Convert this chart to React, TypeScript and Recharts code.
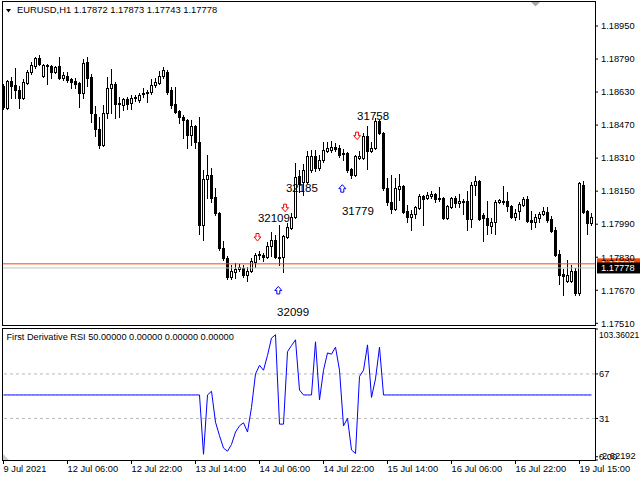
import React from "react";
import {
  ComposedChart,
  Bar,
  Line,
  Scatter,
  XAxis,
  YAxis,
  ReferenceLine,
} from "recharts";

const FONT = '"Liberation Sans", Arial, sans-serif';

// EURUSD H1 candles, 9 Jul 14:00 .. 19 Jul
const opens = [
  1.18659, 1.18553, 1.18684, 1.18664, 1.1864, 1.18601, 1.18674, 1.18727, 1.18756, 1.18795,
  1.18708, 1.18761, 1.18756, 1.18727, 1.18756, 1.18698, 1.18708, 1.18693, 1.18684, 1.18674,
  1.18626, 1.18776, 1.18703, 1.18524, 1.18451, 1.18374, 1.18529, 1.1865, 1.18669, 1.18577,
  1.18567, 1.18596, 1.18577, 1.18606, 1.18592, 1.18621, 1.1863, 1.1863, 1.18664, 1.18674,
  1.18708, 1.18727, 1.1864, 1.18572, 1.18538, 1.18509, 1.18495, 1.18422, 1.18466, 1.18388,
  1.17986, 1.18209, 1.18228, 1.18122, 1.18044, 1.17875, 1.17826, 1.17734, 1.17758, 1.17773,
  1.17778, 1.17744, 1.17763, 1.17807, 1.17841, 1.17841, 1.17831, 1.17884, 1.17913, 1.17831,
  1.17831, 1.17928, 1.17972, 1.18025, 1.18223, 1.18194, 1.18194, 1.18253, 1.1832, 1.18262,
  1.18301, 1.18345, 1.18349, 1.18364, 1.18359, 1.18335, 1.18335, 1.18257, 1.18228, 1.18311,
  1.18311, 1.18417, 1.18345, 1.18359, 1.1849, 1.18432, 1.18165, 1.18098, 1.18064, 1.1816,
  1.18175, 1.18054, 1.18025, 1.18039, 1.18068, 1.18127, 1.18117, 1.18127, 1.18136, 1.18117,
  1.18117, 1.1802, 1.18073, 1.18117, 1.18093, 1.18102, 1.18102, 1.18015, 1.1818, 1.18199,
  1.18035, 1.1802, 1.17981, 1.18001, 1.18098, 1.18102, 1.18102, 1.18078, 1.18025, 1.18054,
  1.18083, 1.18112, 1.1801, 1.18001, 1.1802, 1.18039, 1.18049, 1.18015, 1.17962, 1.17846,
  1.17749, 1.17715, 1.17715, 1.17763, 1.17657, 1.1818, 1.18054, 1.17996,
];
const highs = [
  1.18669, 1.18688, 1.18703, 1.18747, 1.18659, 1.18693, 1.18737, 1.18776, 1.188, 1.1881,
  1.18766, 1.18766, 1.18761, 1.18756, 1.188, 1.18727, 1.18727, 1.18698, 1.18698, 1.18679,
  1.1879, 1.188, 1.18718, 1.18563, 1.18509, 1.18567, 1.18703, 1.18742, 1.18679, 1.18606,
  1.18601, 1.18606, 1.18616, 1.18616, 1.18626, 1.1865, 1.1864, 1.18693, 1.18698, 1.18732,
  1.18751, 1.18737, 1.18655, 1.18655, 1.18543, 1.18519, 1.185, 1.18495, 1.18471, 1.18509,
  1.18253, 1.18325, 1.18262, 1.18165, 1.18049, 1.17909, 1.17836, 1.17792, 1.17802, 1.17797,
  1.17792, 1.17783, 1.17826, 1.1785, 1.1786, 1.1785, 1.17904, 1.17952, 1.17938, 1.17986,
  1.17938, 1.17996, 1.18044, 1.18286, 1.18253, 1.18282, 1.18345, 1.18349, 1.18349, 1.18325,
  1.18388, 1.18388, 1.18393, 1.18383, 1.18374, 1.18354, 1.1834, 1.18262, 1.18325, 1.18345,
  1.18432, 1.18466, 1.18388, 1.18504, 1.18495, 1.18437, 1.18214, 1.18228, 1.18214, 1.18233,
  1.1818, 1.18083, 1.18059, 1.18078, 1.18136, 1.18131, 1.18146, 1.18151, 1.18141, 1.1817,
  1.18122, 1.18083, 1.18122, 1.18127, 1.18136, 1.18112, 1.18151, 1.18194, 1.18223, 1.18204,
  1.18044, 1.18102, 1.1802, 1.18107, 1.18112, 1.18175, 1.18146, 1.18083, 1.18064, 1.18098,
  1.18122, 1.18127, 1.18054, 1.18039, 1.18049, 1.18073, 1.18073, 1.1803, 1.17976, 1.17865,
  1.17773, 1.17817, 1.17792, 1.17778, 1.18194, 1.18199, 1.18059, 1.18044,
];
const lows = [
  1.18548, 1.18548, 1.18601, 1.18601, 1.18553, 1.18596, 1.18669, 1.18718, 1.18747, 1.18761,
  1.18703, 1.18669, 1.18698, 1.18722, 1.18693, 1.18688, 1.18679, 1.1865, 1.1865, 1.18558,
  1.18601, 1.18659, 1.18485, 1.18417, 1.18359, 1.18369, 1.18504, 1.18529, 1.18504, 1.18509,
  1.18543, 1.18548, 1.18548, 1.18587, 1.18582, 1.18606, 1.18582, 1.18621, 1.18655, 1.18669,
  1.18698, 1.18621, 1.18553, 1.18529, 1.1848, 1.18408, 1.18359, 1.18374, 1.18359, 1.17943,
  1.17913, 1.18117, 1.18098, 1.18035, 1.17865, 1.17817, 1.17725, 1.17725, 1.17729, 1.17763,
  1.17734, 1.17715, 1.17758, 1.17783, 1.17821, 1.17812, 1.17826, 1.17836, 1.17826, 1.17792,
  1.17758, 1.17923, 1.17967, 1.1802, 1.18146, 1.18131, 1.1819, 1.18243, 1.18248, 1.18253,
  1.18291, 1.1834, 1.1834, 1.18345, 1.18315, 1.18301, 1.18243, 1.18214, 1.18223, 1.18306,
  1.18306, 1.18257, 1.1834, 1.18354, 1.18427, 1.18156, 1.18083, 1.18044, 1.18059, 1.18107,
  1.18044, 1.18001, 1.17962, 1.1802, 1.18064, 1.17986, 1.18112, 1.18117, 1.18098, 1.18102,
  1.18015, 1.18015, 1.18068, 1.18073, 1.18073, 1.18039, 1.17962, 1.17976, 1.18131, 1.1801,
  1.17909, 1.17943, 1.17947, 1.17943, 1.18093, 1.18088, 1.18054, 1.1802, 1.1801, 1.18015,
  1.18078, 1.18001, 1.17967, 1.17976, 1.18001, 1.18035, 1.18001, 1.17952, 1.17836, 1.177,
  1.17647, 1.1771, 1.1771, 1.17647, 1.17647, 1.18044, 1.17943, 1.17986,
];
const closes = [
  1.18558, 1.18684, 1.18659, 1.1864, 1.18601, 1.18679, 1.18727, 1.18761, 1.18795, 1.18766,
  1.18761, 1.18756, 1.18727, 1.18751, 1.18698, 1.18713, 1.18688, 1.18679, 1.18669, 1.18626,
  1.18771, 1.18698, 1.18529, 1.18451, 1.18374, 1.18529, 1.1865, 1.18669, 1.18572, 1.18572,
  1.18596, 1.18572, 1.18601, 1.18601, 1.18616, 1.18626, 1.18626, 1.18664, 1.18679, 1.18708,
  1.18737, 1.1863, 1.18567, 1.18533, 1.18509, 1.18495, 1.18422, 1.18466, 1.18388, 1.17986,
  1.18209, 1.18228, 1.18117, 1.18044, 1.17875, 1.17826, 1.17734, 1.17763, 1.17773, 1.17783,
  1.17744, 1.17763, 1.17812, 1.17841, 1.17846, 1.17831, 1.17884, 1.17913, 1.17831, 1.17826,
  1.17933, 1.17976, 1.18025, 1.18219, 1.18185, 1.18253, 1.1832, 1.1832, 1.18262, 1.18301,
  1.18349, 1.18359, 1.18364, 1.18354, 1.18325, 1.1833, 1.18253, 1.18228, 1.1832, 1.1832,
  1.18417, 1.18345, 1.18359, 1.1849, 1.18432, 1.18165, 1.18098, 1.18064, 1.18165, 1.18175,
  1.18049, 1.18025, 1.18039, 1.18073, 1.18127, 1.18112, 1.18131, 1.18136, 1.18112, 1.18112,
  1.1802, 1.18078, 1.18117, 1.18093, 1.18102, 1.18098, 1.18015, 1.1818, 1.18199, 1.18015,
  1.1802, 1.17986, 1.18001, 1.18098, 1.18107, 1.18098, 1.18078, 1.18025, 1.18044, 1.18088,
  1.18112, 1.18005, 1.18001, 1.18025, 1.18039, 1.18054, 1.1801, 1.17957, 1.17841, 1.17744,
  1.17739, 1.17744, 1.17763, 1.17657, 1.1819, 1.18049, 1.17996, 1.18025,
];

// First Derivative RSI, one value per bar
const fdRsi = [
  50, 50, 50, 50, 50, 50, 50, 50, 50, 50,
  50, 50, 50, 50, 50, 50, 50, 50, 50, 50,
  50, 50, 50, 50, 50, 50, 50, 50, 50, 50,
  50, 50, 50, 50, 50, 50, 50, 50, 50, 50,
  50, 50, 50, 50, 50, 50, 50, 50, 50, 50,
  2, 50, 53, 28, 17, 7, 4.5, 10, 20, 25,
  27.5, 20, 40, 67, 74, 70, 82, 96, 98.7, 26.4,
  26.4, 85, 90, 94.6, 54, 50, 50, 50, 93, 46,
  70, 84, 83, 88.7, 70, 25, 31, 5.5, 2.6, 65,
  70, 90.5, 48, 63, 88.7, 50, 50, 50, 50, 50,
  50, 50, 50, 50, 50, 50, 50, 50, 50, 50,
  50, 50, 50, 50, 50, 50, 50, 50, 50, 50,
  50, 50, 50, 50, 50, 50, 50, 50, 50, 50,
  50, 50, 50, 50, 50, 50, 50, 50, 50, 50,
  50, 50, 50, 50, 50, 50, 50, 50,
];

const timeTicks = [0, 16, 32, 48, 64, 80, 96, 112, 128, 144];
const timeLabels = [
  "9 Jul 2021", "12 Jul 06:00", "12 Jul 22:00", "13 Jul 14:00", "14 Jul 06:00",
  "14 Jul 22:00", "15 Jul 14:00", "16 Jul 06:00", "16 Jul 22:00", "19 Jul 15:00",
];
const priceTicks = [1.1895, 1.1879, 1.1863, 1.1847, 1.1831, 1.1815, 1.1799, 1.1783, 1.1767, 1.1751];
const rsiAxisTicks = [103.36021, 67, 31, 0, -2.62192];
const rsiAxisLabels = ["103.36021", "67", "31", "0.00", "-2.62192"];
const rsiLevels = [67, 31];

const askPrice = 1.17798;
const bidPrice = 1.17778;

const sellArrows = [
  { i: 63.5, p: 1.17928 },
  { i: 70.4, p: 1.1807 },
  { i: 88.4, p: 1.18419 },
];
const buyArrows = [
  { i: 68.7, p: 1.17669 },
  { i: 84.7, p: 1.18162 },
];
const countLabels = [
  { i: 72.4, p: 1.17565, t: "32099" },
  { i: 67.6, p: 1.1802, t: "32109" },
  { i: 74.6, p: 1.18165, t: "32185" },
  { i: 88.6, p: 1.18054, t: "31779" },
  { i: 92.4, p: 1.18514, t: "31758" },
];

const candles = opens.map((o, i) => ({ i, o, h: highs[i], l: lows[i], c: closes[i] }));
const rsiRows = fdRsi.map((v, i) => ({ i, v }));

const xDomain: [number, number] = [-0.375, 147.875];
const priceDomain: [number, number] = [1.175017, 1.190711];
const rsiDomain: [number, number] = [-2.62192, 103.36021];

function Candle(props: any) {
  const { x, y, width, height } = props;
  const d = props.payload;
  if (!d || height == null || x == null) return null;
  const top = Math.min(y, y + height);
  const span = Math.abs(height);
  const py = (v: number) => top + ((d.h - v) / (d.h - d.l)) * span;
  const px = Math.floor(x + width / 2);
  const yH = Math.round(py(d.h));
  const yL = Math.round(py(d.l));
  const bTop = Math.round(py(Math.max(d.o, d.c)));
  const bBot = Math.round(py(Math.min(d.o, d.c)));
  const bull = d.c > d.o;
  return (
    <g>
      <line x1={px + 0.5} x2={px + 0.5} y1={yH} y2={yL + 1} stroke="#000" strokeWidth={1} />
      {bull ? (
        <rect x={px - 0.5} y={bTop + 0.5} width={2} height={Math.max(bBot - bTop, 1)} fill="#fff" stroke="#000" strokeWidth={1} />
      ) : (
        <rect x={px - 1} y={bTop} width={3} height={bBot - bTop + 1} fill="#000" />
      )}
    </g>
  );
}

function DownArrow(props: any) {
  const { cx, cy } = props;
  const pts = [
    [cx - 1.5, cy - 3.5], [cx + 1.5, cy - 3.5], [cx + 1.5, cy], [cx + 3.5, cy],
    [cx, cy + 4], [cx - 3.5, cy], [cx - 1.5, cy],
  ].map((p) => p.join(",")).join(" ");
  return <polygon points={pts} fill="#fff" stroke="#ff0000" strokeWidth={1} />;
}

function UpArrow(props: any) {
  const { cx, cy } = props;
  const pts = [
    [cx - 1.5, cy + 3.5], [cx + 1.5, cy + 3.5], [cx + 1.5, cy], [cx + 3.5, cy],
    [cx, cy - 4], [cx - 3.5, cy], [cx - 1.5, cy],
  ].map((p) => p.join(",")).join(" ");
  return <polygon points={pts} fill="#fff" stroke="#0000ff" strokeWidth={1} />;
}

function CountLabel(props: any) {
  const { cx, cy, payload } = props;
  return (
    <text x={cx} y={cy} dy="0.36em" textAnchor="middle" fontSize={11.5} fontFamily={FONT} fill="#000">
      {payload.t}
    </text>
  );
}

function PriceTag({ viewBox, fill, text }: any) {
  if (!viewBox) return null;
  const x = viewBox.x + viewBox.width + 2;
  const y = viewBox.y;
  return (
    <g>
      <rect x={x} y={y - 5.5} width={43} height={11} fill={fill} />
      <text x={x + 4} y={y} dy="0.36em" fontSize={9.3} fontFamily={FONT} fill="#fff">
        {text}
      </text>
    </g>
  );
}

function TimeTick(props: any) {
  const { x, y, payload } = props;
  const k = timeTicks.indexOf(payload.value);
  return (
    <text x={x} y={y + 8} textAnchor="start" fontSize={9.3} fontFamily={FONT} fill="#000">
      {timeLabels[k]}
    </text>
  );
}

function RsiTick(props: any) {
  const { x, y, payload } = props;
  const k = rsiAxisTicks.indexOf(payload.value);
  const shift = k === 0 ? 6 : k === 4 ? -4 : 0;
  return (
    <text
      x={x - 2}
      y={y + shift}
      dy="0.36em"
      textAnchor="start"
      fontSize={k === 0 ? 8.5 : 9.3}
      fontFamily={FONT}
      fill="#000"
    >
      {rsiAxisLabels[k]}
    </text>
  );
}

const line = (left: number, top: number, width: number, height: number) => (
  <div style={{ position: "absolute", left, top, width, height, background: "#000" }} />
);

export default function App() {
  return (
    <div style={{ position: "absolute", left: 0, top: 0, width: 640, height: 480, background: "#fff", overflow: "hidden" }}>
      <style>{".recharts-surface{overflow:visible}"}</style>
      <div style={{ position: "absolute", left: 0, top: 0 }}>
        <ComposedChart width={640} height={325} data={candles} margin={{ top: 1, right: 0, bottom: 0, left: 2 }}>
          <XAxis dataKey="i" type="number" domain={xDomain} allowDataOverflow hide />
          <YAxis
            orientation="right"
            width={45}
            domain={priceDomain}
            allowDataOverflow
            ticks={priceTicks}
            interval={0}
            tickFormatter={(v: number) => v.toFixed(5)}
            tick={{ fill: "#000", fontSize: 9.3, fontFamily: FONT }}
            tickLine={{ stroke: "#000" }}
            tickSize={3}
            tickMargin={3}
            axisLine={false}
          />
          <Bar dataKey={(d: any) => [d.l, d.h]} barSize={3} shape={Candle} isAnimationActive={false} />
          <ReferenceLine
            y={askPrice}
            stroke="#ff4500"
            strokeWidth={1}
            label={(p: any) => <PriceTag viewBox={p.viewBox} fill="#ff4500" text="1.17798" />}
          />
          <ReferenceLine
            y={bidPrice}
            stroke="#c0c0c0"
            strokeWidth={1}
            label={(p: any) => <PriceTag viewBox={p.viewBox} fill="#000" text="1.17778" />}
          />
          <Scatter data={sellArrows} dataKey="p" shape={DownArrow} isAnimationActive={false} />
          <Scatter data={buyArrows} dataKey="p" shape={UpArrow} isAnimationActive={false} />
          <Scatter data={countLabels} dataKey="p" shape={CountLabel} isAnimationActive={false} />
        </ComposedChart>
      </div>

      <div style={{ position: "absolute", left: 0, top: 328 }}>
        <ComposedChart width={640} height={152} data={rsiRows} margin={{ top: 1, right: 0, bottom: 0, left: 2 }}>
          <XAxis
            dataKey="i"
            type="number"
            domain={xDomain}
            allowDataOverflow
            ticks={timeTicks}
            interval={0}
            height={20}
            tick={TimeTick}
            tickLine={{ stroke: "#000" }}
            tickSize={4}
            tickMargin={0}
            axisLine={false}
          />
          <YAxis
            orientation="right"
            width={45}
            domain={rsiDomain}
            allowDataOverflow
            ticks={rsiAxisTicks}
            interval={0}
            tick={RsiTick}
            tickLine={{ stroke: "#000" }}
            tickSize={3}
            tickMargin={3}
            axisLine={false}
          />
          {rsiLevels.map((lv) => (
            <ReferenceLine key={lv} y={lv} stroke="#b8b8b8" strokeDasharray="3 3" />
          ))}
          <Line type="linear" dataKey="v" stroke="#0000ff" strokeWidth={1} dot={false} isAnimationActive={false} />
        </ComposedChart>
      </div>

      {/* window frames */}
      {line(2, 1, 594, 1)}
      {line(2, 1, 1, 325)}
      {line(2, 325, 594, 1)}
      {line(595, 1, 1, 325)}
      {line(2, 328, 594, 1)}
      {line(2, 328, 1, 133)}
      {line(2, 460, 594, 1)}
      {line(595, 328, 1, 133)}

      <svg width={640} height={480} style={{ position: "absolute", left: 0, top: 0, pointerEvents: "none" }}>
        <polygon points="6,9 11,9 8.5,12.5" fill="#000" />
        <text x={17} y={13.3} fontSize={9.4} fontFamily={FONT} fill="#000">
          EURUSD,H1 1.17872 1.17873 1.17743 1.17778
        </text>
        <polygon points="531,2 540,2 535.5,6.5" fill="#a8a8a8" />
        <text x={6.5} y={340} fontSize={9.2} fontFamily={FONT} fill="#000">
          First Derivative RSI 50.00000 0.00000 0.00000 0.00000
        </text>
        <polygon points="3,454 3,460 9,460" fill="#cccccc" />
      </svg>
    </div>
  );
}
